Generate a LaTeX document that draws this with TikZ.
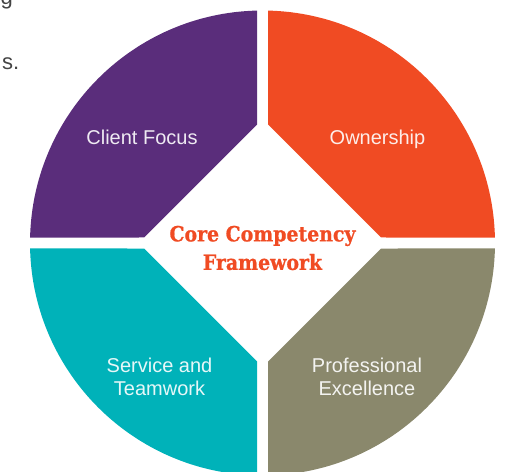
\documentclass[tikz,border=0pt]{standalone}
\usepackage{fontspec}
\newfontfamily\labfont{Liberation Sans}
\newfontfamily\ctrfont[BoldFeatures={FakeBold=0.8}]{DejaVu Serif Condensed}
\definecolor{cpurple}{HTML}{5A2D7B}
\definecolor{corange}{HTML}{F04B23}
\definecolor{cteal}{HTML}{00B2B9}
\definecolor{colive}{HTML}{8A886C}
\definecolor{ctext}{HTML}{444444}
\tikzset{
  quadlabel/.style={text=white, text opacity=0.9, align=center, font=\labfont\fontsize{20bp}{23.5bp}\selectfont, inner sep=0pt},
  centerlabel/.style={text=corange, align=center, font=\ctrfont\bfseries\fontsize{21bp}{28.5bp}\selectfont, inner sep=0pt},
  pagetext/.style={text=ctext, font=\labfont\fontsize{22bp}{26bp}\selectfont, inner sep=0pt}
}
\begin{document}
\begin{tikzpicture}[x=1bp,y=-1bp]
\useasboundingbox (0,0) rectangle (513,472);
\clip (0,0) rectangle (513,472);
\coordinate (C) at (262.5,243);
\def\R{232.5}
\def\g{5.5}
\def\dg{118.5}
\begin{scope}[shift={(262.5,243)}]
  \fill[corange] (\g,-\dg) -- (271.356:\R) arc[start angle=271.356, end angle=358.644, radius=\R] -- (\dg,-\g) -- cycle;
  \fill[cpurple] (-\g,-\dg) -- (268.644:\R) arc[start angle=268.644, end angle=181.356, radius=\R] -- (-\dg,-\g) -- cycle;
  \fill[cteal] (-\g,\dg) -- (91.356:\R) arc[start angle=91.356, end angle=178.644, radius=\R] -- (-\dg,\g) -- cycle;
  \fill[colive] (\g,\dg) -- (88.644:\R) arc[start angle=88.644, end angle=1.356, radius=\R] -- (\dg,\g) -- cycle;
\end{scope}
\node[quadlabel, anchor=base] (client) at (142,144.5) {Client Focus};
\node[quadlabel, anchor=base] (owner) at (377.5,144.5) {Ownership};
\node[quadlabel] (service) at (159.5,377) {Service and\\Teamwork};
\node[quadlabel] (prof) at (367,377) {Professional\\Excellence};
\node[centerlabel] (core) at (262.5,248) {Core Competency\\Framework};
\node[pagetext, anchor=base east] (gtxt) at (13,4.5) {g};
\node[pagetext, anchor=base east] (stxt) at (19.5,70) {s.};
\end{tikzpicture}
\end{document}
